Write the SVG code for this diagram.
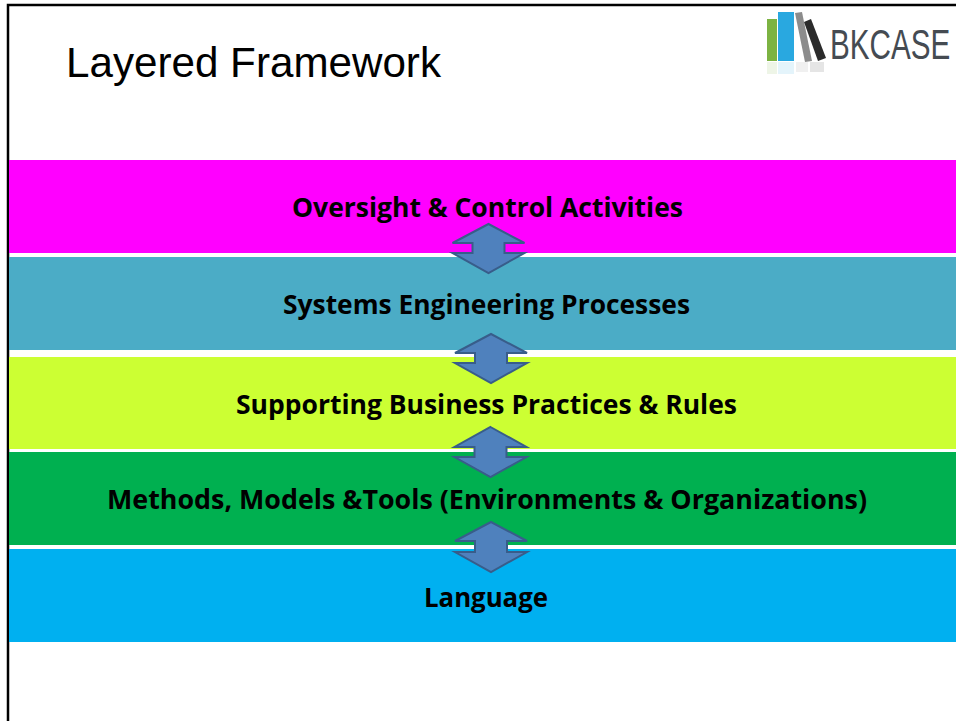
<svg xmlns="http://www.w3.org/2000/svg" width="956" height="721" viewBox="0 0 956 721">
<style>
.lbl{font-family:"Open Sans","Liberation Sans",sans-serif;font-weight:700;font-size:26px;fill:#000;text-anchor:middle}
.arr{fill:#4f81bd;stroke:#385d8a;stroke-width:2;stroke-linejoin:miter}
</style>
<rect x="0" y="0" width="956" height="721" fill="#fff"/>
<path d="M8 721 V5 H956" fill="none" stroke="#000" stroke-width="2.5"/>
<text x="66" y="77" font-family="'Liberation Sans',Arial,sans-serif" font-size="42" textLength="375" lengthAdjust="spacingAndGlyphs" fill="#000">Layered Framework</text>
<g id="logo">
<g opacity="0.12">
<rect x="767" y="62" width="10" height="12" fill="#7cb342"/>
<rect x="778" y="62" width="16" height="12" fill="#29a8e0"/>
<rect x="796" y="62" width="12" height="10" fill="#888"/>
<rect x="810" y="62" width="14" height="10" fill="#333"/>
</g>
<rect x="767" y="19" width="10" height="42" fill="#7cb342"/>
<rect x="778" y="12" width="16" height="49" fill="#29a8e0"/>
<polygon points="795,13 802,12 812,61 805,62" fill="#8c8c8c"/>
<polygon points="804,22 811,19 826,58 818,61" fill="#2b2b2b"/>
<text transform="translate(830,59) scale(0.69,1)" x="0" y="0" font-family="'Liberation Sans',Arial,sans-serif" font-size="43" fill="#454b52">BKCASE</text>
</g>
<g id="layer-oversight">
<rect x="9" y="160" width="947" height="93" fill="#ff00ff"/>
<text class="lbl" x="487.5" y="217" textLength="391" lengthAdjust="spacingAndGlyphs">Oversight &amp; Control Activities</text>
</g>
<g id="layer-se-processes">
<rect x="9" y="257" width="947" height="93" fill="#4bacc6"/>
<text class="lbl" x="486.5" y="314" textLength="407" lengthAdjust="spacingAndGlyphs">Systems Engineering Processes</text>
</g>
<g id="layer-business">
<rect x="9" y="357" width="947" height="92" fill="#ccff33"/>
<text class="lbl" x="486.5" y="414" textLength="501" lengthAdjust="spacingAndGlyphs">Supporting Business Practices &amp; Rules</text>
</g>
<g id="layer-methods">
<rect x="9" y="452" width="947" height="93" fill="#00b050"/>
<text class="lbl" x="487" y="509" textLength="760" lengthAdjust="spacingAndGlyphs">Methods, Models &amp;Tools (Environments &amp; Organizations)</text>
</g>
<g id="layer-language">
<rect x="9" y="549" width="947" height="93" fill="#00b0f0"/>
<text class="lbl" x="486" y="606.5" textLength="124" lengthAdjust="spacingAndGlyphs">Language</text>
</g>
<g id="connectors">
<path class="arr" d="M488.5 224 L524.5 243 L504.5 243 L504.5 253 L524.5 253 L488.5 273 L452.5 253 L472.5 253 L472.5 243 L452.5 243 Z"/>
<path class="arr" d="M491 334 L527 353 L507 353 L507 363 L527 363 L491 383 L455 363 L475 363 L475 353 L455 353 Z"/>
<path class="arr" d="M490.5 427 L526.5 447 L506.5 447 L506.5 457 L526.5 457 L490.5 477 L454.5 457 L474.5 457 L474.5 447 L454.5 447 Z"/>
<path class="arr" d="M491 522 L527 541 L507 541 L507 552 L527 552 L491 572 L455 552 L475 552 L475 541 L455 541 Z"/>
</g>
</svg>
